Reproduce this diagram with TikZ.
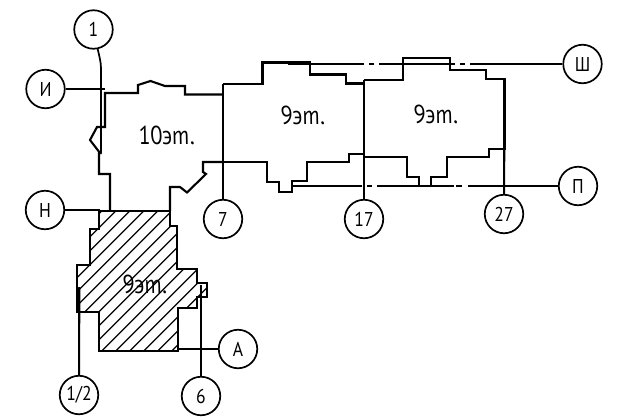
\documentclass[tikz,border=0pt]{standalone}
\usepackage{fontspec}
\setmainfont{PT Sans}
\newcommand\axl[1]{\scalebox{0.88}[1]{#1}}
\begin{document}
\begin{tikzpicture}[x=1pt,y=-1pt,
  wall/.style={line width=2.1pt,line join=miter,line cap=butt},
  thinl/.style={line width=1.7pt},
  hatchl/.style={line width=1.3pt},
  axis/.style={draw,circle,line width=1.7pt,minimum size=38.5pt,inner sep=0pt,font=\fontsize{20}{20}\selectfont},
  floorlbl/.style={inner sep=0pt,font=\fontsize{26}{26}\selectfont\itshape,transform shape,xslant=-0.2,xscale=0.87}]
\useasboundingbox (0,0) rectangle (624,418);
\fill[white] (0,0) rectangle (624,418);
% axis bubbles
\node[axis] (n1) at (93.5,29.5) {\axl{1}};
\node[axis] (nI) at (45.5,89) {\axl{И}};
\node[axis] (nN) at (45,210) {\axl{Н}};
\node[axis] (n7) at (223,219) {\axl{7}};
\node[axis] (n17) at (364,219) {\axl{17}};
\node[axis] (n27) at (504,214) {\axl{27}};
\node[axis] (nSh) at (582.5,64) {\axl{Ш}};
\node[axis] (nP) at (578,186) {\axl{П}};
\node[axis] (nA) at (238,349) {\axl{А}};
\node[axis] (n6) at (201,396) {\axl{6}};
\node[axis] (n12) at (79,395) {\axl{1/2}};
% free ends
\coordinate (e1a) at (101,68);
\coordinate (e1) at (101,153);
\coordinate (eI) at (105,89);
\coordinate (eN) at (100,210);
\coordinate (e7) at (223,84);
\coordinate (e17) at (364,80);
\coordinate (e27) at (504.5,79);
\coordinate (eA) at (178,349);
\coordinate (e6) at (201,285);
\coordinate (e12) at (79.3,287);
\coordinate (eSh) at (288,64);
\coordinate (eP) at (291.7,186);
% hatching
\begin{scope}
\clip (99.3,211) -- (170,211) -- (170,226) -- (177,226) -- (177,269) -- (196.7,269) -- (196.7,283.3) -- (207.3,283.3) -- (207.3,296.7) -- (196.7,296.7) -- (196.7,308.3) -- (178,308.3) -- (178,351.3) -- (99.3,351.3) -- (99.3,312.3) -- (77.3,312.3) -- (77.3,264.7) -- (90.3,264.7) -- (90.3,229) -- (99.3,229) -- cycle;
\foreach \k in {-2,...,15} {
  \pgfmathsetmacro{\s}{326.7+14*\k}
  \draw[hatchl] (\s-200,200) -- (\s-400,400);
}
\end{scope}
% buildings
\draw[wall] (223,94.5) -- (185,94.5) -- (185,86) -- (165,86) -- (150.5,81) -- (138,85) -- (138,93) -- (105,93) -- (105,127) -- (97,127) -- (90,140) -- (100,153) -- (99,153) -- (99,174) -- (110,174) -- (110,210);
\draw[wall] (170,211) -- (170,187) -- (180,187) -- (187,192.5) -- (206,174) -- (203,172) -- (203,162) -- (223,162);
\draw[wall] (223,84) -- (262.5,84) -- (262.5,62.5) -- (310,62.5) -- (310,74.5) -- (346,74.5) -- (346,83.5) -- (364,83.5);
\draw[wall] (364,154) -- (349,154) -- (349,161.7) -- (306.7,161.7) -- (306.7,181) -- (291.7,181) -- (291.7,191.7) -- (279,191.7) -- (279,181.7) -- (266.7,181.7) -- (266.7,161.7) -- (223,161.7);
\draw[wall] (364,80) -- (403,80) -- (403,58) -- (450,58) -- (450,70) -- (486,70) -- (486,79) -- (504.5,79) -- (504.5,149) -- (489.3,149) -- (489.3,156.7) -- (447,156.7) -- (447,176.7) -- (431,176.7) -- (431,186) -- (419,186) -- (419,176.7) -- (407,176.7) -- (407,157) -- (364,157);
\draw[wall] (99.3,211) -- (170,211) -- (170,226) -- (177,226) -- (177,269) -- (196.7,269) -- (196.7,283.3) -- (207.3,283.3) -- (207.3,296.7) -- (196.7,296.7) -- (196.7,308.3) -- (178,308.3) -- (178,351.3) -- (99.3,351.3) -- (99.3,312.3) -- (77.3,312.3) -- (77.3,264.7) -- (90.3,264.7) -- (90.3,229) -- (99.3,229) -- cycle;
\draw[wall] (288,63.5) -- (310,63.5);
% axes
\draw[thinl] (n1) .. controls (99,55) and (101,62) .. (e1a);
\draw[wall] (e1a) -- (e1);
\draw[thinl] (nI) -- (eI);
\draw[thinl] (nN) -- (eN);
\draw[wall] (n7) -- (e7);
\draw[wall] (n17) -- (e17);
\draw[wall] (n27) -- (e27);
\draw[thinl] (nA) -- (eA);
\draw[wall] (n6) -- (e6);
\draw[wall] (n12) -- (e12);
\draw[thinl] (nSh) -- (470,64) (465,64) -- (460,64) (455,64) -- (379,64) (374,64) -- (369,64) (364,64) -- (eSh);
\draw[thinl] (nP) -- (468,186) (462,186) -- (456,186) (454,186) -- (432,186) (419,186) -- (377,186) (372,186) -- (367,186) (362,186) -- (eP);
% labels
\node[floorlbl] (t10) at (165.7,135) {10эт.};
\node[floorlbl] (t9a) at (302,115.6) {9эт.};
\node[floorlbl] (t9b) at (435,114) {9эт.};
\node[floorlbl] (t9c) at (144,284) {9эт.};
\end{tikzpicture}
\end{document}
